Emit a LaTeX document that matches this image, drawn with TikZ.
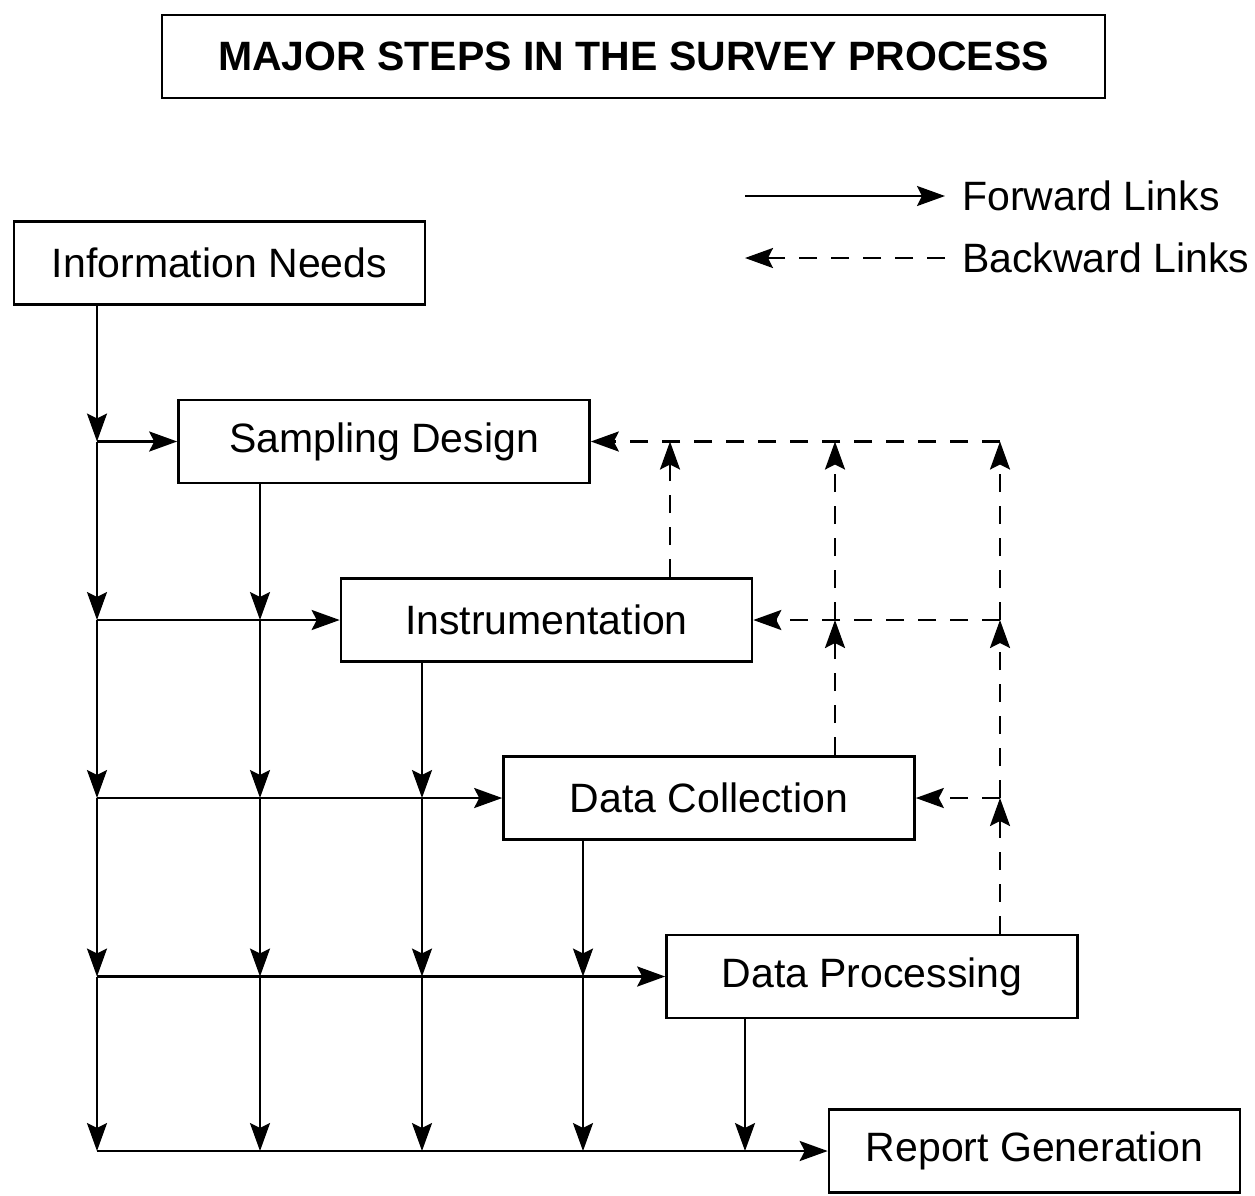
\documentclass[tikz,border=0pt]{standalone}
\usepackage{fontspec}
\setmainfont{Liberation Sans}
\usetikzlibrary{arrows.meta,calc}
\begin{document}
\begin{tikzpicture}[x=1pt,y=-1pt,
  stepbox/.style={draw,line width=2.6pt,minimum width=411pt,minimum height=83pt,inner sep=0pt,font=\fontsize{41}{48}\selectfont},
  fwd/.style={line width=2.5pt,-{Stealth[length=28pt,width=20pt,inset=5pt]}},
  bwd/.style={fwd,dash pattern=on 18pt off 14pt},
  legtext/.style={anchor=west,inner sep=0pt,font=\fontsize{41}{48}\selectfont}]
\useasboundingbox (0,0) rectangle (1255,1195);
\node[draw,line width=2.6pt,minimum width=943pt,minimum height=83pt,inner sep=0pt,font=\fontsize{41}{48}\selectfont\bfseries] (title) at (633.5,56.5) {MAJOR STEPS IN THE SURVEY PROCESS};
% legend
\coordinate (f1) at (745,196);
\coordinate (f2) at (945,196);
\coordinate (g1) at (945,258);
\coordinate (g2) at (745,258);
\draw[fwd] (f1) -- (f2);
\draw[bwd] (g1) -- (g2);
\node[legtext] (fl) at (962,196) {Forward Links};
\node[legtext] (bl) at (962,258) {Backward Links};
% boxes
\node[stepbox] (in)  at (219.5,263)   {Information Needs};
\node[stepbox] (sd)  at (384,441.5)   {Sampling Design};
\node[stepbox] (ins) at (546.5,620)   {Instrumentation};
\node[stepbox] (dc)  at (709,798)     {Data Collection};
\node[stepbox] (dp)  at (872,976.5)   {Data Processing};
\node[stepbox] (rg)  at (1034.5,1151) {Report Generation};
% column x positions
\coordinate (c1) at (97,0);
\coordinate (c2) at (260,0);
\coordinate (c3) at (422,0);
\coordinate (c4) at (583,0);
\coordinate (c5) at (745,0);
\coordinate (b1) at (670,0);
\coordinate (b2) at (835,0);
\coordinate (b3) at (1000,0);
% forward verticals
\draw[fwd] (c1|-in.south) -- (c1|-sd.west);
\draw[fwd] (c1|-sd.west) -- (c1|-ins.west);
\draw[fwd] (c1|-ins.west) -- (c1|-dc.west);
\draw[fwd] (c1|-dc.west) -- (c1|-dp.west);
\draw[fwd] (c1|-dp.west) -- (c1|-rg.west);
\draw[fwd] (c2|-sd.south) -- (c2|-ins.west);
\draw[fwd] (c2|-ins.west) -- (c2|-dc.west);
\draw[fwd] (c2|-dc.west) -- (c2|-dp.west);
\draw[fwd] (c2|-dp.west) -- (c2|-rg.west);
\draw[fwd] (c3|-ins.south) -- (c3|-dc.west);
\draw[fwd] (c3|-dc.west) -- (c3|-dp.west);
\draw[fwd] (c3|-dp.west) -- (c3|-rg.west);
\draw[fwd] (c4|-dc.south) -- (c4|-dp.west);
\draw[fwd] (c4|-dp.west) -- (c4|-rg.west);
\draw[fwd] (c5|-dp.south) -- (c5|-rg.west);
% forward horizontals
\draw[fwd] (c1|-sd.west) -- (sd.west);
\draw[fwd] (c1|-ins.west) -- (ins.west);
\draw[fwd] (c1|-dc.west) -- (dc.west);
\draw[fwd] (c1|-dp.west) -- (dp.west);
\draw[fwd] (c1|-rg.west) -- (rg.west);
% backward verticals
\draw[bwd] (b1|-ins.north) -- (b1|-sd.east);
\draw[bwd] (b2|-dc.north) -- (b2|-ins.east);
\draw[bwd] (b2|-ins.east) -- (b2|-sd.east);
\draw[bwd] (b3|-dp.north) -- (b3|-dc.east);
\draw[bwd] (b3|-dc.east) -- (b3|-ins.east);
\draw[bwd] (b3|-ins.east) -- (b3|-sd.east);
% backward horizontals
\draw[bwd] (b3|-sd.east) -- (sd.east);
\draw[bwd] (b3|-ins.east) -- (ins.east);
\draw[bwd] (b3|-dc.east) -- (dc.east);
\end{tikzpicture}
\end{document}
